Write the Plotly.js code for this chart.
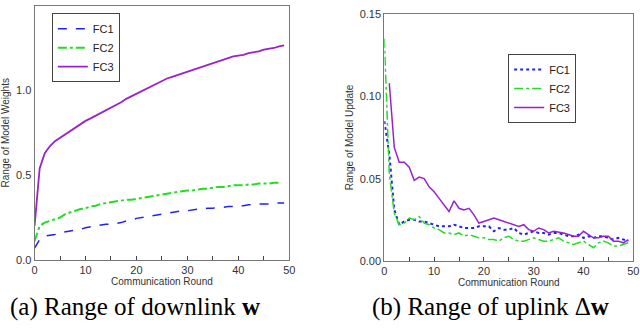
<!DOCTYPE html>
<html>
<head>
<meta charset="utf-8">
<script src="https://cdn.plot.ly/plotly-3.0.1.min.js"></script>
<style>
  html, body { margin: 0; padding: 0; background: #fff; }
  #chart { width: 640px; height: 329px; }
</style>
</head>
<body>
<div id="chart"></div>
<script>
// communication rounds 0..49
var rounds = [];
for (var i = 0; i < 50; i++) rounds.push(i);

// (a) range of downlink weights
var downFC1 = [0.07, 0.12, 0.14, 0.145, 0.15, 0.16, 0.165, 0.17, 0.175, 0.18,
               0.19, 0.195, 0.20, 0.205, 0.21, 0.21, 0.215, 0.22, 0.23, 0.235,
               0.245, 0.25, 0.255, 0.26, 0.265, 0.27, 0.275, 0.28, 0.285, 0.29,
               0.29, 0.295, 0.30, 0.30, 0.305, 0.305, 0.31, 0.31, 0.315, 0.315,
               0.32, 0.32, 0.325, 0.325, 0.33, 0.33, 0.33, 0.335, 0.335, 0.335];
var downFC2 = [0.11, 0.20, 0.22, 0.23, 0.24, 0.25, 0.27, 0.28, 0.29, 0.30,
               0.305, 0.315, 0.32, 0.33, 0.335, 0.34, 0.345, 0.35, 0.355, 0.355,
               0.36, 0.365, 0.37, 0.375, 0.38, 0.385, 0.39, 0.395, 0.40, 0.405,
               0.41, 0.41, 0.415, 0.42, 0.42, 0.425, 0.43, 0.43, 0.435, 0.44,
               0.44, 0.44, 0.445, 0.445, 0.45, 0.45, 0.45, 0.455, 0.455, null];
var downFC3 = [0.20, 0.54, 0.63, 0.67, 0.70, 0.72, 0.745, 0.765, 0.785, 0.80,
               0.82, 0.835, 0.85, 0.87, 0.885, 0.90, 0.915, 0.93, 0.95, 0.965,
               0.98, 0.995, 1.01, 1.025, 1.04, 1.055, 1.07, 1.08, 1.09, 1.10,
               1.11, 1.12, 1.13, 1.14, 1.15, 1.16, 1.17, 1.18, 1.19, 1.20,
               1.205, 1.21, 1.22, 1.225, 1.23, 1.24, 1.245, 1.25, 1.26, 1.265];

// (b) range of uplink model update
var upFC1 = [0.085, 0.065, 0.031, 0.022, 0.024, 0.025, 0.025, 0.024, 0.024, 0.023,
             0.022, 0.021, 0.021, 0.021, 0.022, 0.021, 0.020, 0.020, 0.020, 0.021,
             0.021, 0.021, 0.018, 0.020, 0.019, 0.019, 0.020, 0.017, 0.016, 0.017,
             0.018, 0.017, 0.017, 0.016, 0.017, 0.017, 0.016, 0.015, 0.015, 0.016,
             0.014, 0.015, 0.014, 0.015, 0.015, 0.014, 0.013, 0.014, 0.013, 0.012];
var upFC2 = [0.135, 0.053, 0.029, 0.022, 0.023, 0.026, 0.025, 0.027, 0.023, 0.022,
             0.020, 0.019, 0.017, 0.017, 0.016, 0.017, 0.015, 0.016, 0.015, 0.014,
             0.014, 0.013, 0.013, 0.012, 0.014, 0.015, 0.013, 0.012, 0.012, 0.013,
             0.014, 0.013, 0.012, 0.012, 0.013, 0.014, 0.012, 0.011, 0.010, 0.011,
             0.012, 0.010, 0.008, 0.011, 0.012, 0.011, 0.009, 0.009, 0.010, 0.011];
var upFC3 = [null, 0.108, 0.069, 0.060, 0.060, 0.057, 0.049, 0.051, 0.050, 0.045,
             0.042, 0.038, 0.034, 0.030, 0.0365, 0.032, 0.031, 0.032, 0.028, 0.023,
             0.024, 0.025, 0.026, 0.025, 0.024, 0.023, 0.022, 0.021, 0.022, 0.019,
             0.018, 0.020, 0.019, 0.017, 0.018, 0.0175, 0.017, 0.016, 0.015, 0.015,
             0.018, 0.016, 0.014, 0.014, 0.015, 0.015, 0.012, 0.012, 0.011, 0.013];

var seriesNames = ['FC1', 'FC2', 'FC3'];
var colors = ['#2222ee', '#22dd22', '#9922cc'];

var tickFont = {family: 'Liberation Sans, Arial, sans-serif', size: 11, color: '#333'};
var titleFont = {family: 'Liberation Sans, Arial, sans-serif', size: 10, color: '#333'};
var legendFont = {family: 'Liberation Sans, Arial, sans-serif', size: 11, color: '#222'};
var captionFont = {family: 'Liberation Serif, Times New Roman, serif', size: 25, color: '#000'};

var data = [
	{x: rounds, y: downFC1, name: seriesNames[0], mode: 'lines', xaxis: 'x', yaxis: 'y', legend: 'legend',
	 line: {color: colors[0], width: 1.5, dash: 'dash'}},
	{x: rounds, y: downFC2, name: seriesNames[1], mode: 'lines', xaxis: 'x', yaxis: 'y', legend: 'legend',
	 line: {color: colors[1], width: 2, dash: 'dashdot'}},
	{x: rounds, y: downFC3, name: seriesNames[2], mode: 'lines', xaxis: 'x', yaxis: 'y', legend: 'legend',
	 line: {color: colors[2], width: 1.8}},
	{x: rounds, y: upFC1, name: seriesNames[0], mode: 'lines', xaxis: 'x2', yaxis: 'y2', legend: 'legend2',
	 line: {color: colors[0], width: 2, dash: 'dot'}},
	{x: rounds, y: upFC2, name: seriesNames[1], mode: 'lines', xaxis: 'x2', yaxis: 'y2', legend: 'legend2',
	 line: {color: colors[1], width: 1.5, dash: 'dashdot'}},
	{x: rounds, y: upFC3, name: seriesNames[2], mode: 'lines', xaxis: 'x2', yaxis: 'y2', legend: 'legend2',
	 line: {color: colors[2], width: 1.5}}
];

function xAxis(domain, anchor) {
	return {
		domain: domain, anchor: anchor, range: [0, 50], dtick: 10,
		ticks: 'inside', ticklen: 4, tickcolor: '#444',
		minor: {dtick: 5, ticks: 'inside', ticklen: 4, tickcolor: '#444'},
		showgrid: false, zeroline: false, showline: true, linecolor: '#777', mirror: true,
		tickfont: tickFont,
		title: {text: 'Communication Round', font: titleFont, standoff: 2}
	};
}

var layout = {
	width: 640, height: 329,
	margin: {l: 0, r: 0, t: 0, b: 0},
	paper_bgcolor: '#fff', plot_bgcolor: '#fff',
	xaxis: xAxis([0.054, 0.452], 'y'),
	yaxis: {
		domain: [0.21, 0.983], anchor: 'x', range: [0, 1.5], dtick: 0.5, tickformat: '.1f',
		ticks: '', showgrid: false, zeroline: false, showline: true, linecolor: '#777', mirror: true,
		tickfont: tickFont,
		title: {text: 'Range of Model Weights', font: titleFont, standoff: 4}
	},
	xaxis2: xAxis([0.6005, 0.9895], 'y2'),
	yaxis2: {
		domain: [0.207, 0.957], anchor: 'x2', range: [0, 0.15], dtick: 0.05, tickformat: '.2f',
		ticks: '', showgrid: false, zeroline: false, showline: true, linecolor: '#777', mirror: true,
		tickfont: tickFont,
		title: {text: 'Range of Model Update', font: titleFont, standoff: 4}
	},
	legend: {
		x: 0.081, y: 0.96, xanchor: 'left', yanchor: 'top',
		bgcolor: '#fff', bordercolor: '#444', borderwidth: 1,
		font: legendFont, tracegroupgap: 0, itemwidth: 30
	},
	legend2: {
		x: 0.794, y: 0.836, xanchor: 'left', yanchor: 'top',
		bgcolor: '#fff', bordercolor: '#444', borderwidth: 1,
		font: legendFont, tracegroupgap: 0, itemwidth: 30
	},
	annotations: [
		{text: '(a) Range of downlink <b>w</b>', xref: 'paper', yref: 'paper', x: 0.211, y: 0.068,
		 xanchor: 'center', yanchor: 'middle', showarrow: false, font: captionFont},
		{text: '(b) Range of uplink Δ<b>w</b>', xref: 'paper', yref: 'paper', x: 0.766, y: 0.068,
		 xanchor: 'center', yanchor: 'middle', showarrow: false, font: captionFont}
	]
};

Plotly.newPlot('chart', data, layout, {displayModeBar: false, staticPlot: true});
</script>
</body>
</html>
